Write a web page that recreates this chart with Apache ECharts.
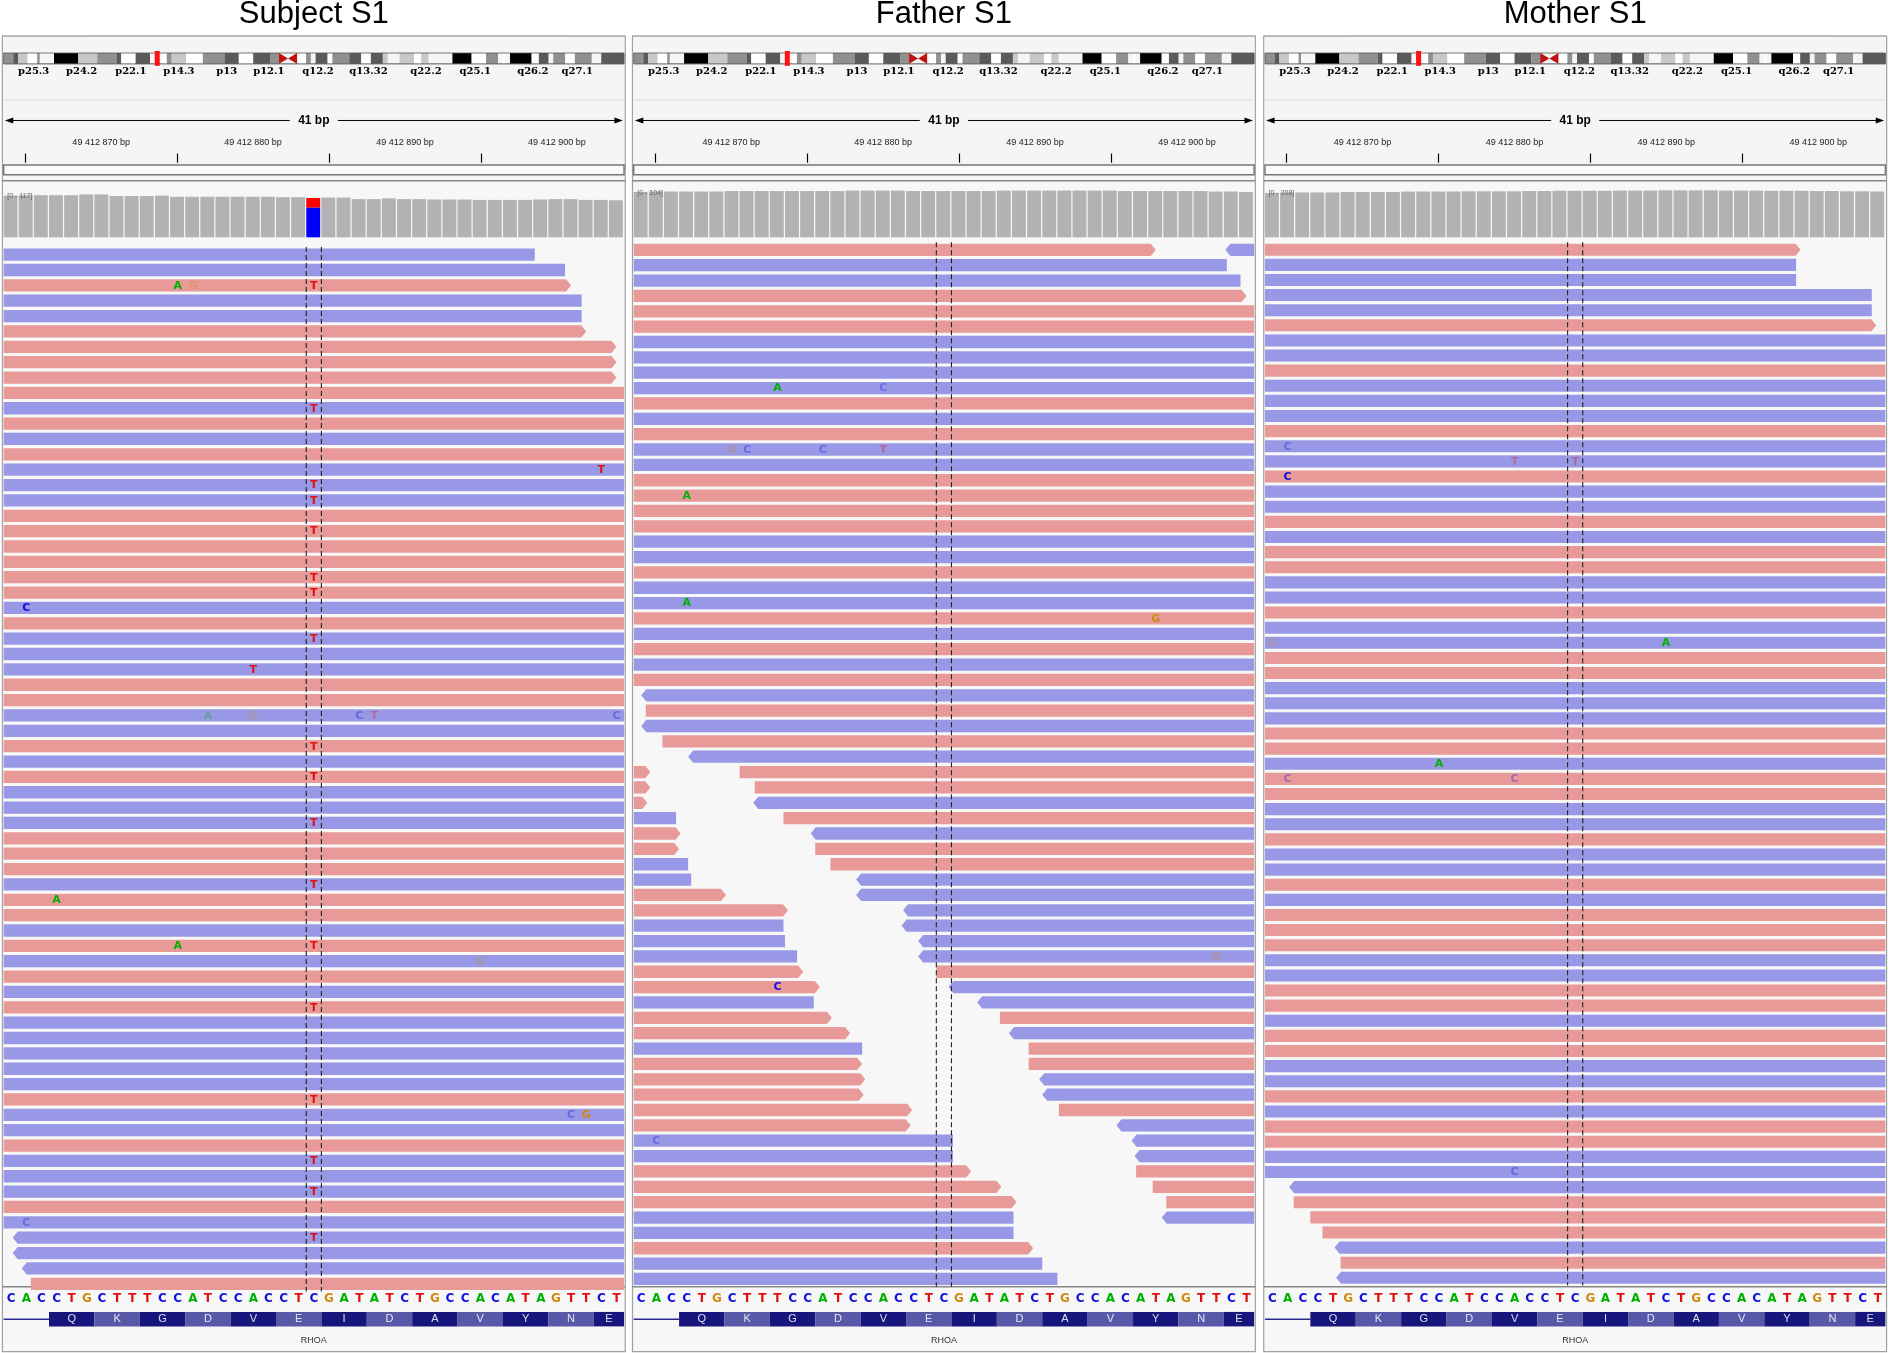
<!DOCTYPE html>
<html><head><meta charset="utf-8">
<script src="https://cdn.jsdelivr.net/npm/echarts@6/dist/echarts.min.js"></script>
<style>html,body{margin:0;background:#fff}#c{width:1889px;height:1353px}</style>
</head><body><div id="c"></div>
<script>
// ---------------- DATA ----------------
const panelTitles = ['Subject S1', 'Father S1', 'Mother S1'];
const refSeq = 'CACCTGCTTTCCATCCACCTCGATATCTGCCACATAGTTCT'; // positions 49412864..49412904
const aminoAcids = ['Q','K','G','D','V','E','I','D','A','V','Y','N','E'];
const geneName = 'RHOA';
const tickLabelPos = [870, 880, 890, 900];
const tickLabels = ['49 412 870 bp', '49 412 880 bp', '49 412 890 bp', '49 412 900 bp'];
const tickMarkPos = [865, 875, 885, 895];
const bandNames = ['p25.3','p24.2','p22.1','p14.3','p13','p12.1','q12.2','q13.32','q22.2','q25.1','q26.2','q27.1'];
const bandNamePos = [25, 65, 106, 146, 186, 221, 262, 304, 352, 393, 441, 478];
// ideogram bands: [start, end, shade]  (shade 0 white .. 4 black)
const ideoBands = [[0,8,2],[8,12,3],[12,20,1],[20,28,0],[28,30,2],[42,62,4],[62,78,1],[78,94,2],[94,98,3],[98,110,0],[110,122,3],[132,136,0],[136,140,2],[140,152,1],[152,166,0],[166,184,2],[184,196,3],[196,208,0],[208,222,3],[222,230,2],[246,252,0],[252,256,2],[260,270,3],[270,274,0],[274,288,2],[288,298,3],[298,306,0],[306,316,3],[316,320,1],[330,342,1],[342,348,0],[348,354,1],[374,390,4],[390,402,0],[402,412,2],[416,418,0],[422,440,4],[440,446,0],[446,454,3],[458,468,2],[468,476,0],[476,490,2],[498,517,3]];
const ideoMarker = 128; const ideoCentromere = 237;

const covLabels = ['[0 - 117]', '[0 - 104]', '[0 - 208]'];
const covMax = [117, 104, 208];
const subjectCoverage = [107,108,108,108,108,110,110,106,106,106,107,104,104,104,104,104,104,104,103,103,101,102,102,98,98,100,98,98,97,97,97,96,96,96,96,97,98,98,96,96,95];
const subjectAltT = 25; const subjectAltPos = 884;
const fatherCoverage = [96,97,97,97,97,97,98,98,98,98,98,98,98,98,99,99,99,99,98,98,98,98,98,98,99,99,99,99,99,99,99,99,98,98,98,98,98,98,97,97,96];
const motherCoverage = [188,190,190,190,190,192,192,192,192,194,194,194,194,195,195,195,195,196,196,197,197,197,197,198,198,198,199,199,199,199,198,198,198,197,197,197,196,196,195,195,194];

// Subject reads: strand per row (R forward / B reverse), full width unless trimmed
const subjectStrands = 'BBRBBRRRRR'+'BRBRBBBRRR'+'RRRBRBBBRR'+'BBRBRBBBRR'+'RBRRBRBRBR'+'BBBBBRBBRB'+'BBRBBBBR';
const subjectTrims = [[0,862,898.6],[1,862,900.6],[2,862,901.0],[3,862,901.7],[4,862,901.7],[5,862,902.0],[6,862,904.0],[7,862,904.0],[8,862,904.0],[64,864.1,906],[65,864.1,906],[66,864.7,906],[67,865.3,906]];
// Subject mismatches: [pos, row, base, faded]
const subjectMis = [[875,2,'A',0],[876,2,'G',1],[884,2,'T',0],[884,10,'T',0],[903,14,'T',0],[884,15,'T',0],[884,16,'T',0],[884,18,'T',0],[884,21,'T',0],[884,22,'T',0],[865,23,'C',0],[884,25,'T',0],[880,27,'T',0],[877,30,'A',1],[880,30,'G',1],[887,30,'C',1],[888,30,'T',1],[904,30,'C',1],[884,32,'T',0],[884,34,'T',0],[884,37,'T',0],[884,41,'T',0],[867,42,'A',0],[875,45,'A',0],[884,45,'T',0],[895,46,'G',1],[884,49,'T',0],[884,55,'T',0],[901,56,'C',1],[902,56,'G',0],[884,59,'T',0],[884,61,'T',0],[865,63,'C',1],[884,64,'T',0]];

// Father reads: [row, start, end, strand]
const fatherReads = [[0,862,898.0,'R'],[0,902.6,906,'B'],[1,862,902.7,'B'],[2,862,903.6,'B'],[3,862,904.0,'R']];
const fatherFullStrands = 'RRBBBBRBRBBRRRRBBRBBRBRBR'; // rows 4..28
const fatherRightStrands = 'BRBRBRRBRBRRBBBBBBRBBRBRRBBRBBBRRRB'; // rows 29..63
const fatherRightStarts = [864.0,864.3,864.0,865.4,867.1,870.5,871.5,871.4,873.4,875.2,875.5,876.5,878.2,878.2,881.3,881.2,882.3,882.3,883.5,884.3,886.2,887.7,888.3,889.6,889.6,890.3,890.5,891.6,895.4,896.4,896.6,896.7,897.8,898.7,898.4];
const fatherLeftStrands = 'RRRBRRBBRRBBBRRBRRBRRRRRBBRRRBBRBB'; // rows 34..67
const fatherLeftEnds = [864.6,864.6,864.4,866.3,866.6,866.5,867.1,867.3,869.6,873.7,873.4,873.5,874.3,874.7,875.8,875.4,876.6,877.8,878.6,878.6,878.8,878.7,881.9,881.8,884.6,884.6,885.8,887.8,888.8,888.6,888.6,889.9,890.5,891.5];
const fatherMis = [[873,9,'A',0],[880,9,'C',1],[870,13,'G',1],[871,13,'C',1],[876,13,'C',1],[880,13,'T',1],[867,16,'A',0],[867,23,'A',0],[898,24,'G',0],[902,46,'G',1],[873,48,'C',0],[865,58,'C',1]];

// Mother reads
const motherStrands = 'RBBBBR'+'BBRBBBRB'+'BRBBRBRR'+'BBRBBRRB'+'BBRRBRRB'+'BRBBRBRR'+'RBBRRBRR'+'BBRBRRBB'+'BRRRBRB';
const motherTrims = [[0,862,898.9],[1,862,898.6],[2,862,898.6],[3,862,903.6],[4,862,903.6],[5,862,903.9],[62,865.1,906],[63,865.4,906],[64,866.5,906],[65,867.3,906],[66,868.1,906],[67,868.5,906],[68,868.2,906]];
const motherMis = [[865,13,'C',1],[880,14,'T',1],[884,14,'T',1],[865,15,'C',0],[864,26,'G',1],[890,26,'A',0],[875,34,'A',0],[865,35,'C',1],[880,35,'C',1],[880,61,'C',1]];

// ---------------- BUILD ----------------
const S = 1889/1568;
const XMIN = 863.5, XMAX = 904.5;
function fullReads(strands, trims, firstRow){
  const t = {}; trims.forEach(r => t[r[0]] = r);
  return strands.split('').map((s,i)=>{const row=i+(firstRow||0); const tr=t[row]; return [row, tr?tr[1]:862, tr?tr[2]:906, s];});
}
const subjectReads = fullReads(subjectStrands, subjectTrims);
const fatherAll = fatherReads.slice();
fatherFullStrands.split('').forEach((s,i)=>fatherAll.push([4+i,862,906,s]));
fatherRightStrands.split('').forEach((s,i)=>fatherAll.push([29+i,fatherRightStarts[i],906,s]));
fatherLeftStrands.split('').forEach((s,i)=>fatherAll.push([34+i,862,fatherLeftEnds[i],s]));
const motherReads = fullReads(motherStrands, motherTrims);

const panels = [
  {left:2, reads:subjectReads, nRows:68, top:205, rowH:12.75, mis:subjectMis, cov:subjectCoverage},
  {left:525, reads:fatherAll, nRows:68, top:201, rowH:12.75, mis:fatherMis, cov:fatherCoverage},
  {left:1049, reads:motherReads, nRows:69, top:201, rowH:12.55, mis:motherMis, cov:motherCoverage}
];
const W = 517;
const baseColor = {A:'#00b000', C:'#1010e0', G:'#d08a10', T:'#e01010'};
const readColor = {R:'#e89a98', B:'#9898e6'};
const shades = ['#ffffff','#c8c8c8','#909090','#5a5a5a','#000000'];

const grids=[], xAxes=[], yAxes=[], series=[], graphics=[];
function addGrid(left, top, width, height, xa, ya){
  grids.push({left:left*S, top:top*S, width:width*S, height:height*S});
  const gi = grids.length-1;
  xAxes.push(Object.assign({gridIndex:gi, type:'value', show:false}, xa||{}));
  yAxes.push(Object.assign({gridIndex:gi, type:'value', show:false}, ya||{}));
  return gi;
}
function clampRect(x0,x1,cs){ return [Math.max(x0,cs.x), Math.min(x1,cs.x+cs.width)]; }
const textItem = (x,y,text,fill,font,op)=>({type:'text', x, y, style:{text, fill, font, align:'center', verticalAlign:'middle', opacity:op==null?1:op}});

panels.forEach((p,pi)=>{
  const L = p.left;
  // frame
  graphics.push({type:'rect', shape:{x:L*S, y:30*S, width:W*S, height:1092*S}, style:{fill:'#f7f7f7', stroke:'#a0a0a0', lineWidth:1.2}, z:-10});
  graphics.push({type:'rect', shape:{x:L*S, y:30*S, width:W*S, height:110*S}, style:{fill:'#f5f5f5', stroke:'#a0a0a0', lineWidth:1}, z:-9});
  graphics.push({type:'rect', shape:{x:(L+1)*S, y:137*S, width:(W-2)*S, height:8*S}, style:{fill:'#fafafa', stroke:'#777', lineWidth:1.5}, z:-8});
  graphics.push({type:'line', shape:{x1:L*S, y1:150*S, x2:(L+W)*S, y2:150*S}, style:{stroke:'#888', lineWidth:1.5}});
  graphics.push({type:'line', shape:{x1:L*S, y1:1068*S, x2:(L+W)*S, y2:1068*S}, style:{stroke:'#888', lineWidth:1.5}});
  graphics.push({type:'line', shape:{x1:(L+1)*S, y1:53*S, x2:(L+W-1)*S, y2:53*S}, style:{stroke:'#bbb', lineWidth:1}});
  graphics.push({type:'line', shape:{x1:(L+1)*S, y1:83*S, x2:(L+W-1)*S, y2:83*S}, style:{stroke:'#ddd', lineWidth:1}});
  // title
  graphics.push({type:'text', x:(L+W/2)*S, y:12*S, style:{text:panelTitles[pi], font:'31px "Liberation Sans", Arial, sans-serif', fill:'#000', align:'center', verticalAlign:'middle'}});
  // 41 bp line
  const y41 = 100*S;
  graphics.push({type:'line', shape:{x1:(L+3)*S, y1:y41, x2:(L+W/2-20)*S, y2:y41}, style:{stroke:'#000', lineWidth:1}});
  graphics.push({type:'line', shape:{x1:(L+W/2+20)*S, y1:y41, x2:(L+W-3)*S, y2:y41}, style:{stroke:'#000', lineWidth:1}});
  graphics.push({type:'polygon', shape:{points:[[(L+2)*S,y41],[(L+9)*S,y41-3],[(L+9)*S,y41+3]]}, style:{fill:'#000'}});
  graphics.push({type:'polygon', shape:{points:[[(L+W-2)*S,y41],[(L+W-9)*S,y41-3],[(L+W-9)*S,y41+3]]}, style:{fill:'#000'}});
  graphics.push({type:'text', x:(L+W/2)*S, y:y41, style:{text:'41 bp', font:'bold 12px "Liberation Sans", Arial', fill:'#000', align:'center', verticalAlign:'middle'}});

  // ideogram
  const gI = addGrid(L+1, 44, W-2, 9, {min:0,max:517}, {min:0,max:1});
  series.push({type:'custom', xAxisIndex:gI, yAxisIndex:gI, silent:true, data:ideoBands, renderItem:(params,api)=>{
    const a=api.coord([api.value(0),1]), b=api.coord([api.value(1),0]);
    return {type:'rect', shape:{x:a[0],y:a[1],width:b[0]-a[0],height:b[1]-a[1]}, style:{fill:shades[api.value(2)]}};
  }});
  series.push({type:'custom', xAxisIndex:gI, yAxisIndex:gI, silent:true, data:[[0,517]], renderItem:(params,api)=>{
    const a=api.coord([0,1]), b=api.coord([517,0]);
    const m=api.coord([ideoMarker,0]), c=api.coord([ideoCentromere,0]);
    const h=b[1]-a[1], cy=a[1]+h/2;
    return {type:'group', children:[
      {type:'rect', shape:{x:a[0],y:a[1],width:b[0]-a[0],height:h}, style:{fill:'none',stroke:'#555',lineWidth:0.8}},
      {type:'rect', shape:{x:m[0]-2.5,y:a[1]-2,width:5,height:h+4}, style:{fill:'#ff1010'}},
      {type:'polygon', shape:{points:[[c[0]-9,a[1]],[c[0],cy],[c[0]-9,b[1]]]}, style:{fill:'#c01010'}},
      {type:'polygon', shape:{points:[[c[0]+9,a[1]],[c[0],cy],[c[0]+9,b[1]]]}, style:{fill:'#c01010'}}
    ]};
  }});
  series.push({type:'custom', xAxisIndex:gI, yAxisIndex:gI, silent:true, data:bandNames.map((n,i)=>[bandNamePos[i],n]), renderItem:(params,api)=>{
    const a=api.coord([api.value(0),0]);
    return textItem(a[0], a[1]+8, bandNames[params.dataIndex], '#000', 'bold 10px "DejaVu Serif", serif');
  }});

  // ruler
  const gR = addGrid(L, 134, W, 1, {show:true, min:XMIN, max:XMAX, position:'top', axisLine:{show:false}, splitLine:{show:false},
    axisTick:{show:true, length:9, customValues:tickMarkPos, lineStyle:{color:'#000',width:1.2}},
    axisLabel:{show:true, customValues:tickLabelPos, margin:14, fontSize:9, color:'#222', formatter:v=>tickLabels[tickLabelPos.indexOf(Math.round(v))]}}, {min:0,max:1});
  series.push({type:'custom', xAxisIndex:gR, yAxisIndex:gR, data:[], renderItem:()=>null});

  // coverage
  const covTop = pi===0?158:155;
  const gC = addGrid(L+1, covTop, W-2, 197-covTop, {min:XMIN,max:XMAX}, {min:0,max:covMax[pi]*1.03});
  series.push({type:'custom', xAxisIndex:gC, yAxisIndex:gC, silent:true, data:p.cov.map((v,i)=>[864+i,v]), renderItem:(params,api)=>{
    const pos=api.value(0), v=api.value(1);
    const a=api.coord([pos-0.5,v]), b=api.coord([pos+0.42,0]);
    const cs=params.coordSys; const [x0,x1]=clampRect(a[0],b[0],cs);
    if (pi===0 && pos===subjectAltPos){
      const m=api.coord([pos,v-subjectAltT]);
      return {type:'group', children:[
        {type:'rect', shape:{x:x0,y:a[1],width:x1-x0,height:m[1]-a[1]}, style:{fill:'#ff0000'}},
        {type:'rect', shape:{x:x0,y:m[1],width:x1-x0,height:b[1]-m[1]}, style:{fill:'#0000ff'}}]};
    }
    return {type:'rect', shape:{x:x0,y:a[1],width:x1-x0,height:b[1]-a[1]}, style:{fill:'#b2b2b2'}};
  }});
  graphics.push({type:'text', x:(L+4)*S, y:(covTop+5)*S, style:{text:covLabels[pi], font:'7px sans-serif', fill:'#666', align:'left', verticalAlign:'middle'}, z:10});

  // reads
  const gRd = addGrid(L+1, p.top, W-2, p.nRows*p.rowH, {min:XMIN,max:XMAX}, {min:-0.5,max:p.nRows-0.5,inverse:true});
  series.push({type:'custom', xAxisIndex:gRd, yAxisIndex:gRd, silent:true, clip:true, data:p.reads, renderItem:(params,api)=>{
    const row=api.value(0), s=api.value(1), e=api.value(2), st=p.reads[params.dataIndex][3];
    const a=api.coord([s,row]), b=api.coord([e,row]);
    const h=api.size([0,1])[1]*0.8, y=a[1];
    const cs=params.coordSys;
    let x0=a[0], x1=b[0];
    const lc = x0<cs.x, rc = x1>cs.x+cs.width;
    x0=Math.max(x0,cs.x); x1=Math.min(x1,cs.x+cs.width);
    if (x1<=x0) return null;
    const pts=[];
    const ar=5;
    if (st==='B' && !lc){ pts.push([x0+ar,y-h/2]); } else pts.push([x0,y-h/2]);
    if (st==='R' && !rc){ pts.push([x1-ar,y-h/2],[x1,y],[x1-ar,y+h/2]); } else pts.push([x1,y-h/2],[x1,y+h/2]);
    if (st==='B' && !lc){ pts.push([x0+ar,y+h/2],[x0,y]); } else pts.push([x0,y+h/2]);
    return {type:'polygon', shape:{points:pts}, style:{fill:readColor[st]}};
  }});
  series.push({type:'custom', xAxisIndex:gRd, yAxisIndex:gRd, silent:true, data:p.mis, z:5, renderItem:(params,api)=>{
    const m=p.mis[params.dataIndex];
    const a=api.coord([m[0],m[1]]);
    return textItem(a[0], a[1]+0.5, m[2], baseColor[m[2]], 'bold 11px "DejaVu Sans", sans-serif', m[3]?0.35:1);
  }});
  // dashed guide lines
  series.push({type:'custom', xAxisIndex:gRd, yAxisIndex:gRd, silent:true, data:[[883.5],[884.5]], z:6, renderItem:(params,api)=>{
    const a=api.coord([api.value(0),-0.5]), b=api.coord([api.value(0),p.nRows-0.5]);
    return {type:'line', shape:{x1:a[0],y1:a[1],x2:b[0],y2:b[1]}, style:{stroke:'#222',lineWidth:1.1,lineDash:[5,3]}};
  }});

  // reference sequence
  const gS = addGrid(L+1, 1071, W-2, 14, {min:XMIN,max:XMAX}, {min:0,max:1});
  series.push({type:'custom', xAxisIndex:gS, yAxisIndex:gS, silent:true, data:refSeq.split('').map((b,i)=>[864+i,0.5]), renderItem:(params,api)=>{
    const b=refSeq[params.dataIndex]; const a=api.coord([api.value(0),0.5]);
    return textItem(a[0], a[1], b, baseColor[b], 'bold 12px "DejaVu Sans", sans-serif');
  }});
  // amino acids
  const gA = addGrid(L+1, 1089, W-2, 12, {min:XMIN,max:XMAX}, {min:0,max:1});
  series.push({type:'custom', xAxisIndex:gA, yAxisIndex:gA, silent:true, data:[[XMIN,866.5]], renderItem:(params,api)=>{
    const a=api.coord([XMIN,0.5]), b=api.coord([866.5,0.5]);
    return {type:'line', shape:{x1:a[0],y1:a[1],x2:b[0],y2:b[1]}, style:{stroke:'#2a2a90',lineWidth:1.5}};
  }});
  series.push({type:'custom', xAxisIndex:gA, yAxisIndex:gA, silent:true, data:aminoAcids.map((aa,i)=>[868+3*i]), renderItem:(params,api)=>{
    const c=api.value(0); const a=api.coord([c-1.5,1]), b=api.coord([c+1.5,0]);
    const cs=params.coordSys; const [x0,x1]=clampRect(a[0],b[0],cs);
    return {type:'group', children:[
      {type:'rect', shape:{x:x0,y:a[1],width:x1-x0,height:b[1]-a[1]}, style:{fill:params.dataIndex%2?'#5858a8':'#16167c'}},
      textItem((x0+x1)/2, (a[1]+b[1])/2, aminoAcids[params.dataIndex], '#ffffff', '11px "Liberation Sans", Arial', 0.85)]};
  }});
  graphics.push({type:'text', x:(L+W/2)*S, y:1113*S, style:{text:geneName, font:'9px "Liberation Sans", Arial', fill:'#333', align:'center', verticalAlign:'middle'}});
});

const chart = echarts.init(document.getElementById('c'));
chart.setOption({animation:false, backgroundColor:'#ffffff', grid:grids, xAxis:xAxes, yAxis:yAxes, series, graphic:{elements:graphics}});
</script></body></html>
